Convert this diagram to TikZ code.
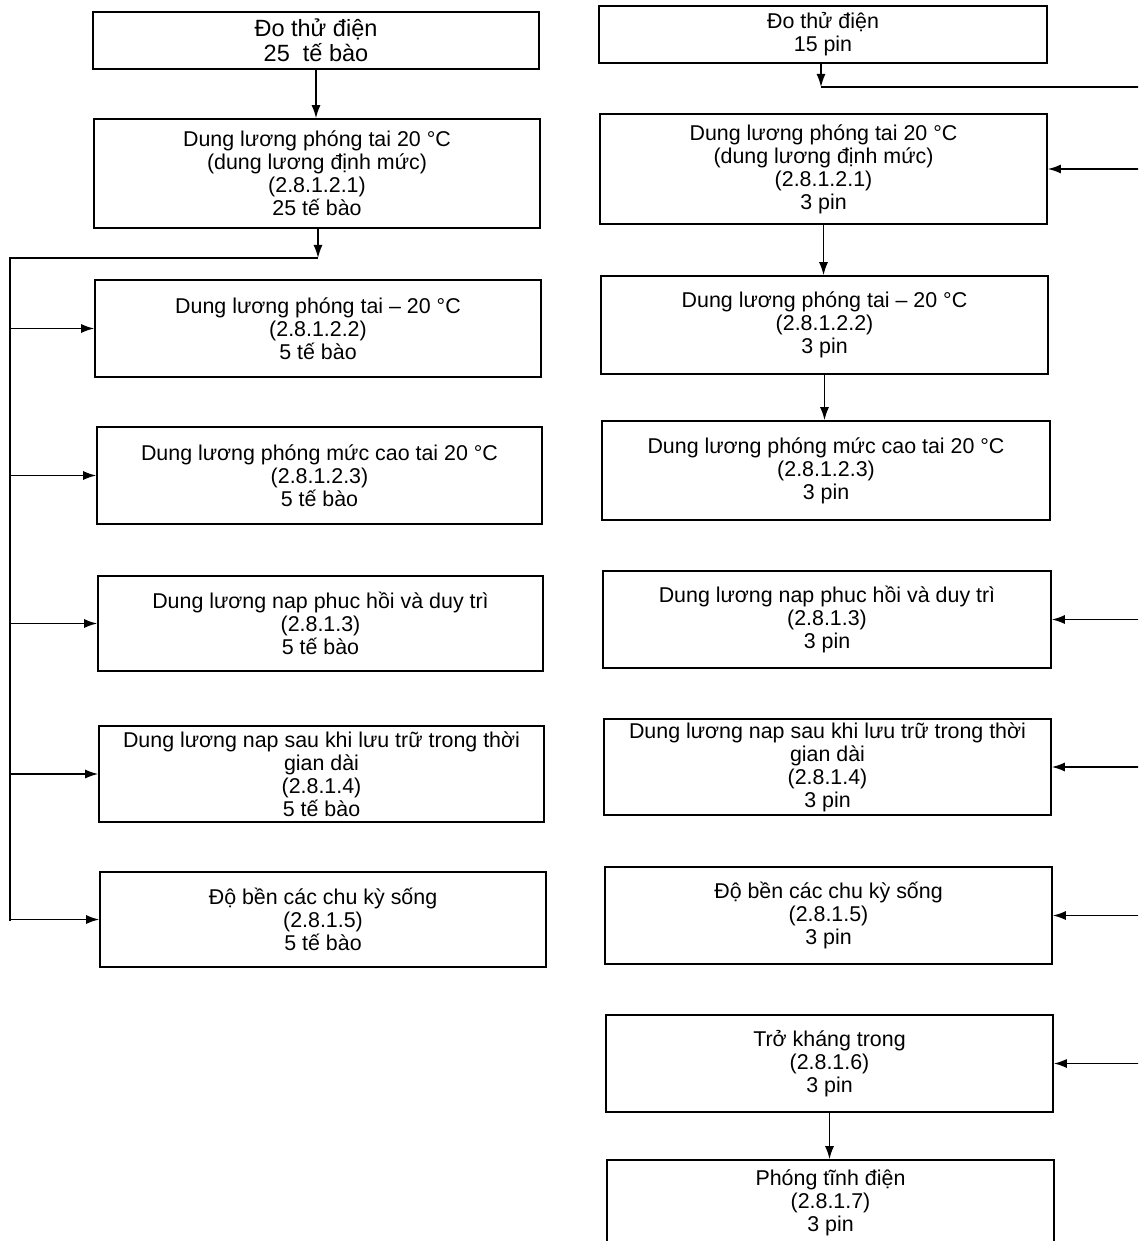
\documentclass[tikz,border=0pt]{standalone}
\usepackage{fontspec}
\setmainfont{Liberation Sans}
\usetikzlibrary{arrows.meta}
\tikzset{
  box/.style={draw=black, line width=1.6pt, align=center, inner sep=0pt,
    font=\fontsize{21.4}{23}\selectfont},
  bigbox/.style={box, font=\fontsize{23.5}{25}\selectfont},
  arr/.style={line width=1.5pt, -{Latex[length=13pt,width=9pt]}},
  ln/.style={line width=1.5pt}
}
\begin{document}
\begin{tikzpicture}[x=1pt,y=-1pt]
\useasboundingbox (0,0) rectangle (1138,1241);
\clip (0,0) rectangle (1138,1241);
% left column
\node[bigbox, minimum width=446pt, minimum height=57pt] (B1) at (316,40.5) {Đo thử điện\\25\ \ tế bào};
\node[box, minimum width=446pt, minimum height=109pt] (B2) at (317,173.5) {Dung lương phóng tai 20 °C\\(dung lương định mức)\\(2.8.1.2.1)\\25 tế bào};
\node[box, minimum width=446pt, minimum height=97pt] (B3) at (318,328.5) {Dung lương phóng tai – 20 °C\\(2.8.1.2.2)\\5 tế bào};
\node[box, minimum width=445pt, minimum height=97pt] (B4) at (319.5,475.5) {Dung lương phóng mức cao tai 20 °C\\(2.8.1.2.3)\\5 tế bào};
\node[box, minimum width=445pt, minimum height=95pt] (B5) at (320.5,623.5) {Dung lương nap phuc hồi và duy trì\\(2.8.1.3)\\5 tế bào};
\node[box, minimum width=445pt, minimum height=96pt] (B6) at (321.5,774) {Dung lương nap sau khi lưu trữ trong thời\\gian dài\\(2.8.1.4)\\5 tế bào};
\node[box, minimum width=446pt, minimum height=95pt] (B7) at (323,919.5) {Độ bền các chu kỳ sống\\(2.8.1.5)\\5 tế bào};
% right column
\node[box, minimum width=448pt, minimum height=57pt] (R1) at (823,34.5) {Đo thử điện\\15 pin};
\node[box, minimum width=447pt, minimum height=110pt] (R2) at (823.5,169) {Dung lương phóng tai 20 °C\\(dung lương định mức)\\(2.8.1.2.1)\\3 pin};
\node[box, minimum width=447pt, minimum height=98pt] (R3) at (824.5,325) {Dung lương phóng tai – 20 °C\\(2.8.1.2.2)\\3 pin};
\node[box, minimum width=448pt, minimum height=99pt] (R4) at (826,470.5) {Dung lương phóng mức cao tai 20 °C\\(2.8.1.2.3)\\3 pin};
\node[box, minimum width=448pt, minimum height=97pt] (R5) at (827,619.5) {Dung lương nap phuc hồi và duy trì\\(2.8.1.3)\\3 pin};
\node[box, minimum width=447pt, minimum height=96pt] (R6) at (827.5,767) {Dung lương nap sau khi lưu trữ trong thời\\gian dài\\(2.8.1.4)\\3 pin};
\node[box, minimum width=447pt, minimum height=97pt] (R7) at (828.5,915.5) {Độ bền các chu kỳ sống\\(2.8.1.5)\\3 pin};
\node[box, minimum width=447pt, minimum height=97pt] (R8) at (829.5,1063.5) {Trở kháng trong\\(2.8.1.6)\\3 pin};
\node[box, minimum width=447pt, minimum height=86pt] (R9) at (830.5,1203) {Phóng tĩnh điện\\(2.8.1.7)\\3 pin};
% left connectors
\coordinate (J) at (318,258);
\coordinate (LB) at (10,258);
\coordinate (LE) at (10,921);
\draw[arr] (B1.south) -- (B1.south |- B2.north);
\draw[arr] (B2.south -| J) -- (J);
\draw[ln] (J) -- (LB) -- (LE);
\foreach \b in {B3,B4,B5,B6,B7} \draw[arr] (LB |- \b.west) -- (\b.west);
% right connectors
\coordinate (K) at (821,87);
\coordinate (RB) at (1150,87);
\coordinate (RE) at (1150,1063);
\draw[arr] (R1.south -| K) -- (K);
\draw[ln] (K) -- (RB) -- (RE);
\foreach \b in {R2,R5,R6,R7,R8} \draw[arr] (RB |- \b.east) -- (\b.east);
\draw[arr] (R2.south) -- (R2.south |- R3.north);
\draw[arr] (R3.south) -- (R3.south |- R4.north);
\draw[arr] (R8.south) -- (R8.south |- R9.north);
\end{tikzpicture}
\end{document}
